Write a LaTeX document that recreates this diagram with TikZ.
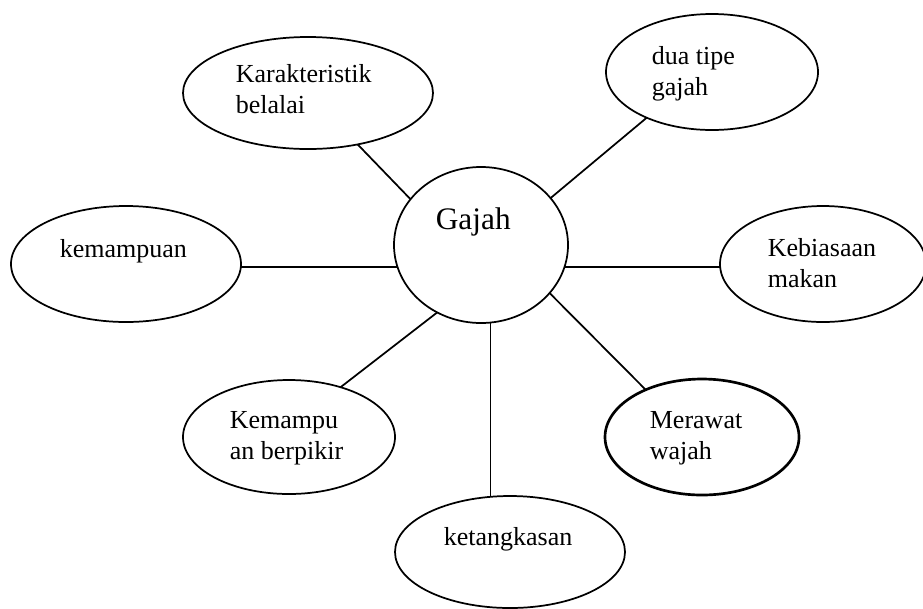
\documentclass[tikz,border=0pt]{standalone}
\usepackage{fontspec}
\setmainfont{Liberation Serif}
\usetikzlibrary{shapes.geometric}

\begin{document}
\begin{tikzpicture}[x={(0.75pt,0pt)},y={(0pt,-0.75pt)},line width=1.3pt,
  bub/.style 2 args={ellipse, draw, inner sep=0pt, outer sep=0pt, minimum width=#1*0.75pt, minimum height=#2*0.75pt},
  txt/.style={inner sep=0pt, anchor=base west, align=left, font=\fontsize{19.5}{23.25}\selectfont}]
\useasboundingbox (0,0) rectangle (923,608);
\node[bub={174}{156}] (gajah) at (481,245) {};
\node[bub={250}{112}] (kar) at (308,93) {};
\node[bub={212}{116}] (dua) at (712,72) {};
\node[bub={206}{116}] (keb) at (823,264) {};
\node[bub={230}{116}] (kem) at (126,264) {};
\node[bub={212}{114}] (kemp) at (289,437) {};
\node[bub={194}{116},line width=2pt] (mer) at (702,437) {};
\node[bub={230}{112}] (ket) at (510,552) {};
% labels (base = last line)
\node[txt,font=\fontsize{23.5}{28}\selectfont] (gajah-t) at (435,229) {Gajah};
\node[txt] (kar-t) at (235,113) {Karakteristik\\belalai};
\node[txt] (dua-t) at (651,95) {dua tipe\\gajah};
\node[txt] (keb-t) at (767,287) {Kebiasaan\\makan};
\node[txt] (kem-t) at (59,257) {kemampuan};
\node[txt] (kemp-t) at (229,459) {Kemampu\\an berpikir};
\node[txt] (mer-t) at (649,459) {Merawat\\wajah};
\node[txt] (ket-t) at (443,545) {ketangkasan};
\draw (gajah.147) -- (kar.-46);
\draw (gajah.34) -- (dua.-145);
\draw (gajah.-15) -- (gajah.-15 -| keb.west);
\draw (gajah.-35) -- (mer.140);
\draw (gajah.-83) -- (gajah.-83 |- ket.north);
\draw (gajah.-123) -- (kemp.44);
\draw (gajah.195) -- (gajah.195 -| kem.east);
\end{tikzpicture}
\end{document}
